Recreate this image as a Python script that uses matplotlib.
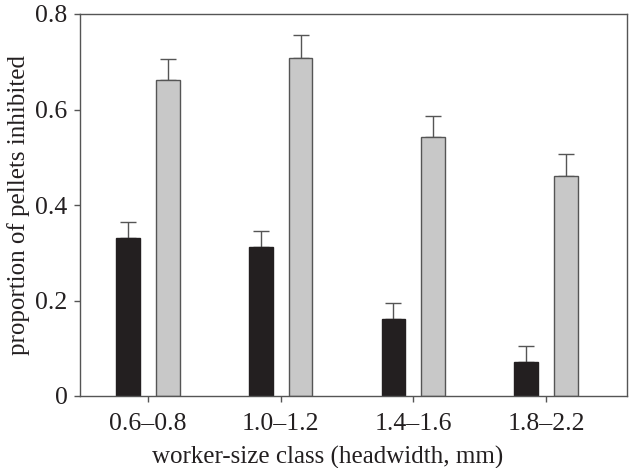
import numpy as np
import matplotlib.pyplot as plt

plt.rcParams['font.family'] = ['Liberation Serif', 'DejaVu Serif']

classes = ['0.6–0.8', '1.0–1.2', '1.4–1.6', '1.8–2.2']
black_vals = [0.330, 0.311, 0.161, 0.071]
black_err = [0.035, 0.034, 0.034, 0.033]
grey_vals = [0.661, 0.708, 0.542, 0.461]
grey_err = [0.045, 0.047, 0.044, 0.045]

x = np.arange(len(classes))
w = 0.18
off = 0.15

fig = plt.figure(figsize=(6.29, 4.68), dpi=100)
ax = fig.add_axes([80 / 629, 1 - 396 / 468, 547 / 629, 382 / 468])

ax.bar(x - off, black_vals, w, color='#231f20', edgecolor='#231f20', linewidth=1,
       zorder=2)
ax.errorbar(x - off, black_vals, yerr=[np.zeros(4), black_err], fmt='none',
            ecolor='#555555', elinewidth=1, capsize=5.5, capthick=1, zorder=1)
ax.bar(x + off, grey_vals, w, color='#c8c8c8', edgecolor='#555555', linewidth=1,
       zorder=2)
ax.errorbar(x + off, grey_vals, yerr=[np.zeros(4), grey_err], fmt='none',
            ecolor='#555555', elinewidth=1, capsize=5.5, capthick=1, zorder=1)

ax.set_xlim(-0.512, 3.61)
ax.set_ylim(0, 0.8)
ax.set_xticks(x)
ax.set_xticklabels(classes)
ax.set_yticks([0, 0.2, 0.4, 0.6, 0.8])
ax.set_yticklabels(['0', '0.2', '0.4', '0.6', '0.8'])
ax.tick_params(labelsize=18.5, colors='#231f20', length=4, width=1)
ax.tick_params(axis='x', pad=8)
ax.tick_params(axis='y', pad=5)
ax.tick_params(color='#555555')
for s in ax.spines.values():
    s.set_color('#555555')
    s.set_linewidth(1)

ax.set_xlabel('worker-size class (headwidth, mm)', fontsize=18, color='#231f20')
ax.set_ylabel('proportion of pellets inhibited', fontsize=18, color='#231f20')
ax.xaxis.set_label_coords(0.452, -0.13)
ax.yaxis.set_label_coords(-0.092, 0.5)

fig.savefig('out.png', dpi=100)
